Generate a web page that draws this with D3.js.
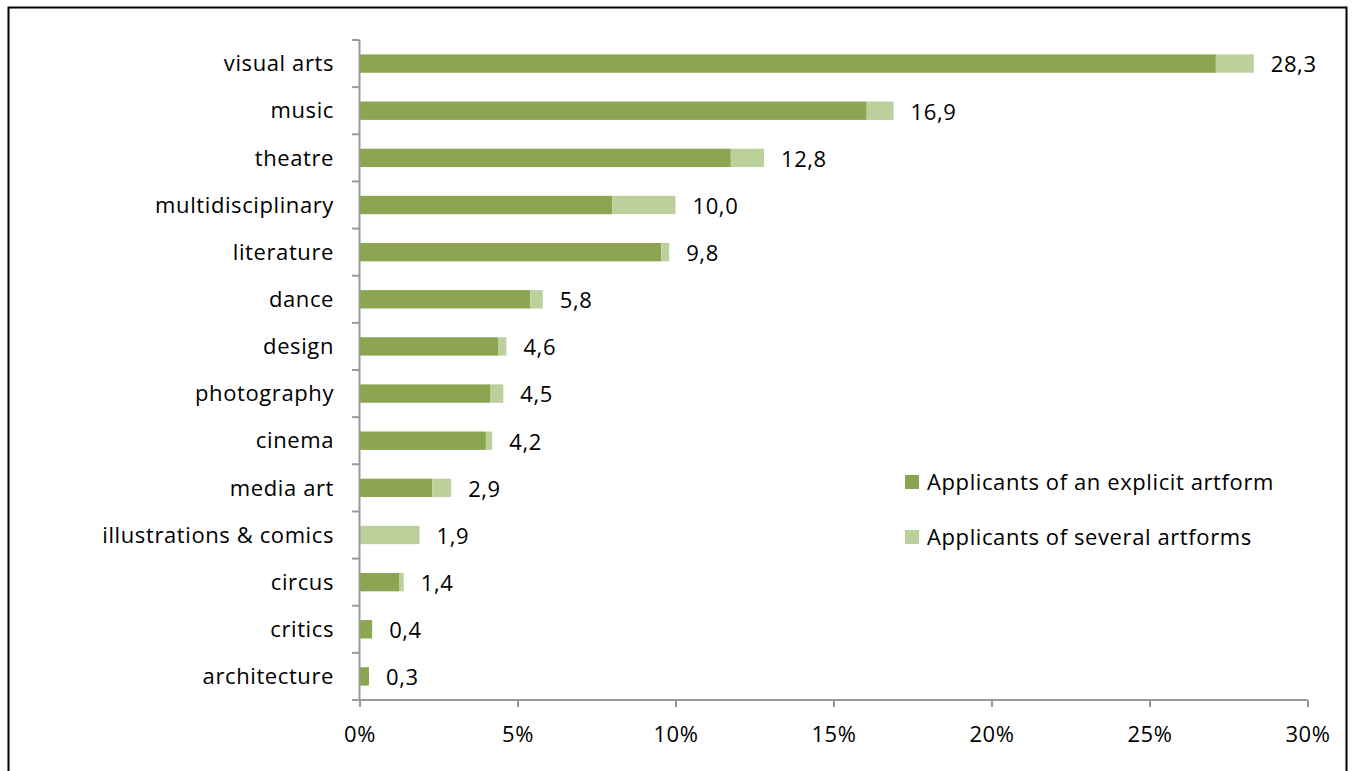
<!DOCTYPE html>
<html><head><meta charset="utf-8">
<script src="https://cdn.jsdelivr.net/npm/d3@7"></script>
<style>
html,body{margin:0;padding:0;background:#fff;}
text{font-family:"Open Sans","Lato",sans-serif;fill:#000;letter-spacing:0.6px;}
</style></head>
<body>
<svg id="chart" width="1352" height="771"></svg>
<script>
const categories = ["visual arts","music","theatre","multidisciplinary","literature","dance","design","photography","cinema","media art","illustrations & comics","circus","critics","architecture"];
const explicitArtform = [27.1,16.05,11.75,8.0,9.55,5.4,4.4,4.15,4.0,2.3,0.0,1.25,0.4,0.3];
const severalArtforms = [1.2,0.85,1.05,2.0,0.25,0.4,0.25,0.4,0.2,0.6,1.9,0.15,0.0,0.0];
const totalLabels = ["28,3","16,9","12,8","10,0","9,8","5,8","4,6","4,5","4,2","2,9","1,9","1,4","0,4","0,3"];
const xTicks = [0,5,10,15,20,25,30];
const seriesNames = ["Applicants of an explicit artform","Applicants of several artforms"];
const colors = ["#8BA550","#BBD09A"];

const FS = 22;
const svg = d3.select("#chart");
// frame
svg.append("rect").attr("x",8.5).attr("y",7.5).attr("width",1338).attr("height",780)
  .attr("fill","none").attr("stroke","#000").attr("stroke-width",2);

const x = d3.scaleLinear().domain([0,30]).range([359.5,1307.5]);
const y = d3.scaleBand().domain(categories).range([40,700]).paddingInner(0.61).paddingOuter(0.305);

const g = svg.append("g");
categories.forEach((c,i)=>{
  const a = explicitArtform[i], b = severalArtforms[i];
  if(a>0) g.append("rect").attr("x",x(0)).attr("y",y(c)).attr("width",x(a)-x(0)).attr("height",y.bandwidth()).attr("fill",colors[0]);
  if(b>0) g.append("rect").attr("x",x(a)).attr("y",y(c)).attr("width",x(a+b)-x(a)).attr("height",y.bandwidth()).attr("fill",colors[1]);
  g.append("text").attr("x",x(a+b)+17).attr("y",y(c)+y.bandwidth()/2).attr("dy","0.4em")
    .attr("font-size",FS).text(totalLabels[i]);
  g.append("text").attr("x",334).attr("y",y(c)+y.bandwidth()/2).attr("dy","0.35em")
    .attr("text-anchor","end").attr("font-size",FS).text(c);
});

const axisColor="#9A9A9A";
g.append("line").attr("x1",359.5).attr("x2",359.5).attr("y1",40).attr("y2",700).attr("stroke",axisColor).attr("stroke-width",2);
const step = y.step();
d3.range(categories.length).forEach(i=>{
  const yy = 40 + i*step;
  g.append("line").attr("x1",352).attr("x2",359.5).attr("y1",yy).attr("y2",yy).attr("stroke",axisColor).attr("stroke-width",2);
});

const xAxis = d3.axisBottom(x).tickValues(xTicks).tickSize(7).tickFormat(d=>d+"%");
const ax = svg.append("g").attr("transform","translate(0,700)").call(xAxis);
ax.select(".domain").attr("stroke",axisColor).attr("stroke-width",2).attr("d","M352,0H1307.5");
ax.selectAll(".tick line").attr("stroke",axisColor).attr("stroke-width",2);
ax.selectAll(".tick text").attr("font-size",FS).attr("font-family","'Open Sans',sans-serif").attr("fill","#000").attr("y",26).attr("dy","0.71em");

seriesNames.forEach((n,i)=>{
  const ly = 482 + i*55;
  svg.append("rect").attr("x",905).attr("y",ly-7).attr("width",14).attr("height",14).attr("fill",colors[i]);
  svg.append("text").attr("x",927).attr("y",ly).attr("dy","0.38em").attr("font-size",FS).text(n);
});
</script>
</body></html>
